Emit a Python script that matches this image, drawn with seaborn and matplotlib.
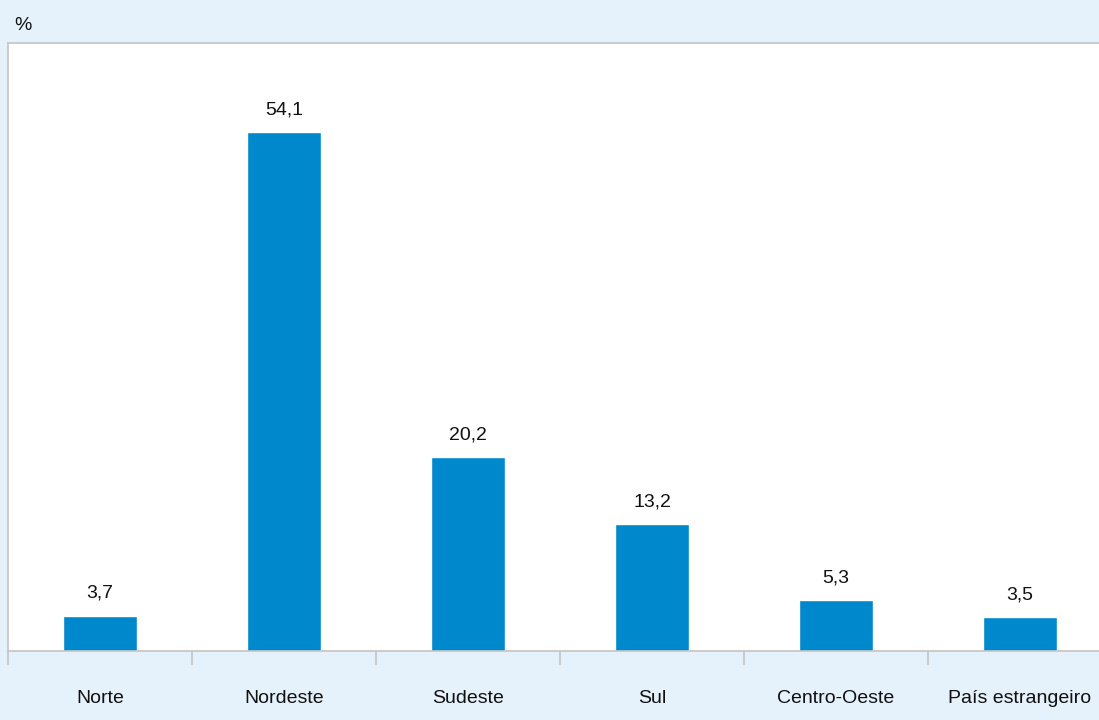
import numpy as np
import matplotlib
matplotlib.use("Agg")
import matplotlib.pyplot as plt
import seaborn as sns

# Data
regioes = ["Norte", "Nordeste", "Sudeste", "Sul", "Centro-Oeste", "País estrangeiro"]
valores = [3.7, 54.1, 20.2, 13.2, 5.3, 3.5]
rotulos = ["3,7", "54,1", "20,2", "13,2", "5,3", "3,5"]

BG = "#e5f1fb"
BAR = "#0088cc"
GRID = "#c4c4c4"

sns.set_style("white")
plt.rcParams["font.family"] = ["Liberation Sans", "DejaVu Sans"]

fig = plt.figure(figsize=(10.99, 7.2), dpi=100, facecolor=BG)
ax = fig.add_axes([8 / 1099, 69 / 720, 1104 / 1099, 608 / 720])
ax.set_facecolor("white")

sns.barplot(x=regioes, y=valores, color=BAR, width=0.4, saturation=1, ax=ax)

ax.set_ylim(0, 63.4)
ax.set_xlim(-0.5, len(regioes) - 0.5)
ax.set_yticks([])

for i, (v, lab) in enumerate(zip(valores, rotulos)):
    ax.annotate(lab, (i, v), xytext=(0, 10), textcoords="offset points",
                ha="center", va="bottom", fontsize=14, color="#111111")

ax.set_xticks(range(len(regioes)))
ax.set_xticklabels(regioes, fontsize=14, color="#111111")
ax.tick_params(axis="x", which="major", length=0, pad=28)
ax.set_xticks(np.arange(-0.5, len(regioes), 1), minor=True)
ax.tick_params(axis="x", which="minor", bottom=True, length=10, color=GRID, width=1.2)

for side in ["left", "top", "bottom"]:
    ax.spines[side].set_color(GRID)
    ax.spines[side].set_linewidth(1.2)
ax.spines["right"].set_visible(False)

fig.text(14 / 1099, 1 - 26 / 720, "%", fontsize=14, color="#111111",
         ha="left", va="center")

fig.savefig("out.png", dpi=100, facecolor=BG)
